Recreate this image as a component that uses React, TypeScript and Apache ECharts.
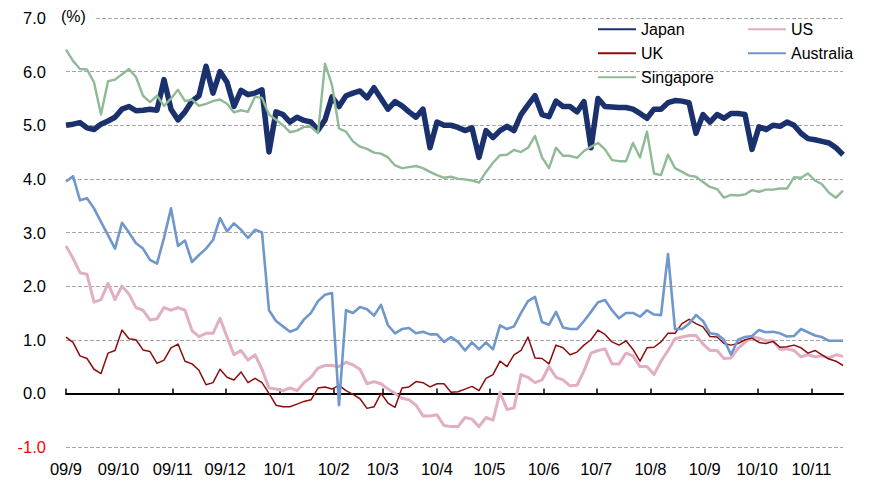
import React, { useEffect, useRef } from "react";
import * as echarts from "echarts";

// ---- axis / sampling ----
const START_DATE = "2009-09-01";
const END_DATE = "2010-11-19";
const SAMPLE_STEP_DAYS = 4; // one value every 4 calendar days from START_DATE
const Y_MIN = -1;
const Y_MAX = 7;
const Y_INTERVAL = 1;
const UNIT_LABEL = "(%)";

// ---- series values (%) ----
const japan = [
  5.0, 5.02, 5.05, 4.95, 4.92, 5.02, 5.08, 5.15, 5.3, 5.35,
  5.27, 5.28, 5.3, 5.28, 5.85, 5.3, 5.1, 5.25, 5.45, 5.55,
  6.1, 5.6, 6.0, 5.8, 5.35, 5.65, 5.57, 5.6, 5.66, 4.5,
  5.25, 5.2, 5.06, 5.15, 5.09, 5.06, 4.91, 5.1, 5.53, 5.35,
  5.55, 5.6, 5.64, 5.51, 5.7, 5.5, 5.3, 5.44, 5.36, 5.25,
  5.15, 5.3, 4.58, 5.06, 5.0, 5.0, 4.96, 4.9, 4.95, 4.4,
  4.9, 4.77, 4.9, 4.98, 4.9, 5.2, 5.38, 5.55, 5.2, 5.16,
  5.45, 5.35, 5.35, 5.25, 5.44, 4.58, 5.5, 5.35, 5.34, 5.33,
  5.33, 5.3, 5.22, 5.13, 5.3, 5.3, 5.42, 5.46, 5.45, 5.42,
  4.85, 5.2, 5.06, 5.2, 5.13, 5.22, 5.22, 5.2, 4.55, 4.97,
  4.92, 5.0, 4.98, 5.06, 5.0, 4.85, 4.75, 4.73, 4.7, 4.67,
  4.58, 4.45,
];
const us = [
  2.75, 2.52, 2.25, 2.22, 1.7, 1.75, 2.05, 1.75, 2.0, 1.85,
  1.6, 1.55, 1.37, 1.39, 1.6, 1.55, 1.6, 1.55, 1.17, 1.06,
  1.12, 1.12, 1.4, 1.05, 0.72, 0.8, 0.62, 0.72, 0.45, 0.1,
  0.08, 0.05, 0.1, 0.05, 0.2, 0.3, 0.47, 0.52, 0.52, 0.5,
  0.58, 0.53, 0.45, 0.18, 0.22, 0.18, 0.08, 0.0, -0.09, -0.12,
  -0.22, -0.42, -0.42, -0.4, -0.6, -0.62, -0.62, -0.45, -0.48, -0.62,
  -0.45, -0.5, 0.02, -0.3, -0.27, 0.35, 0.3, 0.2, 0.25, 0.5,
  0.3, 0.25, 0.14, 0.15, 0.42, 0.75, 0.8, 0.83, 0.55, 0.55,
  0.75, 0.7, 0.5, 0.5, 0.35, 0.6, 0.8, 1.02, 1.05, 1.08,
  1.08, 0.92, 0.8, 0.8, 0.65, 0.66, 0.84, 0.95, 1.05, 1.03,
  0.98, 0.98, 0.82, 0.83, 0.8, 0.68, 0.72, 0.68, 0.7, 0.66,
  0.72, 0.69,
];
const uk = [
  1.05, 0.95, 0.7, 0.65, 0.45, 0.37, 0.75, 0.8, 1.18, 1.02,
  1.0, 0.81, 0.78, 0.56, 0.62, 0.85, 0.92, 0.6, 0.55, 0.43,
  0.16, 0.2, 0.45, 0.3, 0.25, 0.4, 0.2, 0.28, 0.2, 0.0,
  -0.22, -0.25, -0.25, -0.2, -0.15, -0.12, 0.1, 0.12, 0.08, 0.15,
  0.05, -0.02, -0.1, -0.28, -0.25, 0.0, -0.18, -0.26, 0.1, 0.12,
  0.22, 0.2, 0.12, 0.18, 0.18, 0.02, 0.03, 0.08, 0.13, 0.05,
  0.28, 0.35, 0.6, 0.5, 0.72, 0.8, 1.05, 0.66, 0.65, 0.55,
  0.9, 0.85, 0.72, 0.77, 0.9, 1.0, 1.18, 1.1, 0.96, 0.9,
  0.98, 0.82, 0.6, 0.85, 0.86, 0.96, 1.12, 1.12, 1.3, 1.38,
  1.3, 1.24, 1.06, 1.05, 0.93, 0.9, 0.93, 1.0, 1.03, 0.95,
  0.93, 0.97, 0.86, 0.87, 0.9, 0.85, 0.75, 0.8, 0.72, 0.64,
  0.6, 0.52,
];
const australia = [
  3.95, 4.05, 3.6, 3.64, 3.45, 3.2, 2.95, 2.7, 3.18, 3.0,
  2.8, 2.7, 2.49, 2.42, 2.9, 3.45, 2.75, 2.85, 2.45, 2.58,
  2.7, 2.86, 3.27, 3.02, 3.17, 3.05, 2.9, 3.05, 3.0, 1.55,
  1.35, 1.25, 1.15, 1.2, 1.38, 1.5, 1.72, 1.84, 1.87, -0.22,
  1.55, 1.5, 1.61, 1.57, 1.45, 1.65, 1.27, 1.12, 1.2, 1.22,
  1.12, 1.15, 1.1, 1.1, 0.96, 1.05, 0.96, 0.8, 0.95, 0.82,
  0.95, 0.82, 1.27, 1.2, 1.25, 1.5, 1.72, 1.8, 1.33, 1.28,
  1.52, 1.23, 1.2, 1.2, 1.35, 1.52, 1.7, 1.74, 1.55, 1.4,
  1.5, 1.5, 1.43, 1.55, 1.47, 1.46, 2.6, 1.2, 1.2, 1.3,
  1.46, 1.35, 1.12, 1.1, 1.0, 0.72, 1.0, 1.05, 1.07, 1.18,
  1.14, 1.15, 1.12, 1.06, 1.07, 1.2, 1.14, 1.08, 1.05, 0.98,
  0.98, 0.98,
];
const singapore = [
  6.41, 6.2, 6.05, 6.04, 5.8, 5.2, 5.82, 5.85, 5.95, 6.05,
  5.9, 5.55, 5.43, 5.55, 5.36, 5.5, 5.66, 5.45, 5.48, 5.36,
  5.4, 5.45, 5.48, 5.4, 5.24, 5.28, 5.25, 5.53, 5.51, 5.2,
  5.1, 5.0, 4.87, 4.9, 4.97, 4.97, 4.85, 6.15, 5.75, 4.94,
  4.88, 4.7, 4.6, 4.56, 4.49, 4.47, 4.4, 4.25, 4.2, 4.22,
  4.24, 4.2, 4.13, 4.07, 4.02, 4.04, 4.0, 3.99, 3.97, 3.93,
  4.13, 4.3, 4.44, 4.45, 4.54, 4.5, 4.58, 4.8, 4.4, 4.2,
  4.58, 4.43, 4.43, 4.39, 4.52, 4.6, 4.67, 4.55, 4.35, 4.33,
  4.33, 4.67, 4.4, 4.88, 4.1, 4.07, 4.45, 4.2, 4.13, 4.06,
  4.04, 3.94, 3.85, 3.81, 3.65, 3.7, 3.69, 3.71, 3.79, 3.76,
  3.8, 3.8, 3.82, 3.82, 4.03, 4.02, 4.1, 3.97, 3.9, 3.74,
  3.65, 3.78,
];

const FONT = 'Arial, "Liberation Sans", sans-serif';
const AXIS_FONT_SIZE = 16.5;
const LEGEND_FONT_SIZE = 16;

const seriesDefs = [
  { name: "Japan", values: japan, color: "#1b316e", width: 5.5 },
  { name: "US", values: us, color: "#e2aec4", width: 3 },
  { name: "UK", values: uk, color: "#8b0d0d", width: 1.5 },
  { name: "Australia", values: australia, color: "#6f97cb", width: 2.6 },
  { name: "Singapore", values: singapore, color: "#8fba95", width: 2.4 },
];

function buildDays(start: string, end: string): string[] {
  const out: string[] = [];
  const d = new Date(start + "T00:00:00Z");
  const e = new Date(end + "T00:00:00Z");
  while (d.getTime() <= e.getTime()) {
    out.push(d.toISOString().slice(0, 10));
    d.setUTCDate(d.getUTCDate() + 1);
  }
  return out;
}

const days = buildDays(START_DATE, END_DATE);
const isMonthStart = (_i: number, v: string) => String(v).slice(8, 10) === "01";
const monthLabel = (v: string) =>
  `${String(v).slice(2, 4)}/${parseInt(String(v).slice(5, 7), 10)}`;

function buildOption(): any {
  const legendBase = {
    orient: "vertical",
    top: 16,
    padding: 5,
    itemWidth: 38,
    itemHeight: 2,
    itemGap: 7.5,
    icon: "rect",
    selectedMode: false,
    textStyle: {
      fontSize: LEGEND_FONT_SIZE,
      color: "#000",
      fontFamily: FONT,
      lineHeight: 16.5,
    },
  };
  return {
    animation: false,
    backgroundColor: "#fff",
    grid: {
      left: 66,
      right: 31,
      top: 18,
      bottom: 37,
      containLabel: false,
      outerBoundsMode: "none",
    },
    legend: [
      { ...legendBase, left: 593, data: ["Japan", "UK", "Singapore"] },
      { ...legendBase, left: 743, data: ["US", "Australia"] },
    ],
    xAxis: {
      type: "category",
      data: days,
      boundaryGap: false,
      axisLine: { onZero: true, lineStyle: { color: "#000", width: 2 } },
      axisTick: {
        show: true,
        inside: true,
        length: 5,
        interval: isMonthStart,
        lineStyle: { color: "#000", width: 1.5 },
      },
      axisLabel: {
        interval: isMonthStart,
        formatter: monthLabel,
        margin: 13,
        fontSize: AXIS_FONT_SIZE,
        color: "#000",
        fontFamily: FONT,
      },
      splitLine: { show: false },
    },
    yAxis: {
      type: "value",
      min: Y_MIN,
      max: Y_MAX,
      interval: Y_INTERVAL,
      axisLine: { show: false },
      axisTick: { show: false },
      axisLabel: {
        formatter: (v: number) => Number(v).toFixed(1),
        color: (v: any) => (Number(v) < 0 ? "#ff0000" : "#000"),
        fontSize: AXIS_FONT_SIZE,
        margin: 20,
        fontFamily: FONT,
      },
      splitLine: { lineStyle: { type: [4, 2], color: "#a6a6a6", width: 1 } },
    },
    graphic: [
      {
        type: "rect",
        z: 50,
        shape: { x: 58, y: 11, width: 36, height: 13 },
        style: { fill: "#fff" },
      },
      {
        type: "text",
        z: 51,
        x: 61,
        y: 16,
        style: {
          text: UNIT_LABEL,
          fontSize: LEGEND_FONT_SIZE,
          fontFamily: FONT,
          fill: "#000",
          verticalAlign: "middle",
        },
      },
    ],
    series: seriesDefs.map((s, k) => ({
      type: "line",
      name: s.name,
      data: s.values.map((v, i) => [i * SAMPLE_STEP_DAYS, v]),
      showSymbol: false,
      symbol: "none",
      z: 2 + k,
      lineStyle: { color: s.color, width: s.width, join: "round" },
      itemStyle: { color: s.color },
      emphasis: { disabled: true },
    })),
  };
}

export default function App() {
  const ref = useRef<HTMLDivElement>(null);
  useEffect(() => {
    if (!ref.current) return;
    const chart = echarts.init(ref.current, undefined, { renderer: "svg" });
    chart.setOption(buildOption());
    return () => chart.dispose();
  }, []);
  return (
    <div
      ref={ref}
      style={{ position: "absolute", left: 0, top: 0, width: 874, height: 484, background: "#fff" }}
    />
  );
}
